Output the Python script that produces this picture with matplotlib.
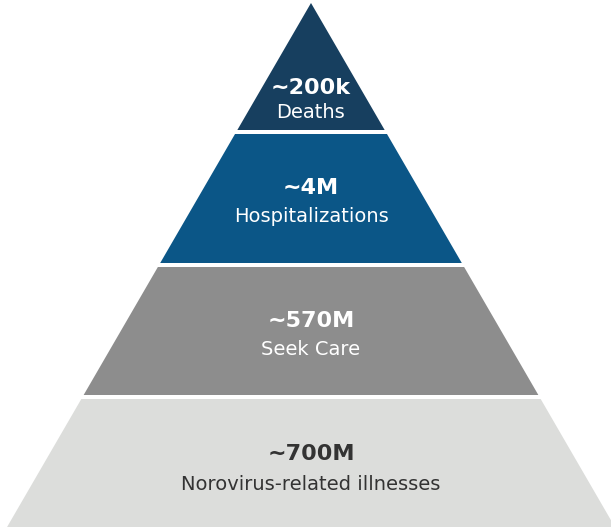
import matplotlib
matplotlib.use("Agg")
import matplotlib.pyplot as plt
from matplotlib.patches import Polygon

values = ["~200k", "~4M", "~570M", "~700M"]
labels = ["Deaths", "Hospitalizations", "Seek Care", "Norovirus-related illnesses"]
colors = ["#173f5f", "#0b5687", "#8d8d8d", "#dcdddb"]
text_colors = ["white", "white", "white", "#333333"]

W, H = 611, 528
fig = plt.figure(figsize=(W / 100, H / 100), dpi=100)
ax = fig.add_axes([0, 0, 1, 1])
ax.set_xlim(0, W)
ax.set_ylim(H, 0)
ax.axis("off")

apex_x, apex_y = 311, 3
slope = 0.58
tops = [3, 134, 267, 399]
bottoms = [130, 263, 395, 527]

def hw(y):
    return (y - apex_y) * slope

for i in range(len(values)):
    t, b = tops[i], bottoms[i]
    pts = [(apex_x - hw(t), t), (apex_x + hw(t), t),
           (apex_x + hw(b), b), (apex_x - hw(b), b)]
    ax.add_patch(Polygon(pts, closed=True, facecolor=colors[i], edgecolor="none"))

val_base = [94, 194, 327, 460]
lab_base = [118, 222, 355, 490]
for i in range(len(values)):
    ax.text(apex_x, val_base[i], values[i], ha="center", va="baseline", fontsize=16,
            fontweight="bold", color=text_colors[i], family="DejaVu Sans")
    ax.text(apex_x, lab_base[i], labels[i], ha="center", va="baseline", fontsize=14,
            color=text_colors[i], family="DejaVu Sans")

fig.savefig("out.png", dpi=100)
